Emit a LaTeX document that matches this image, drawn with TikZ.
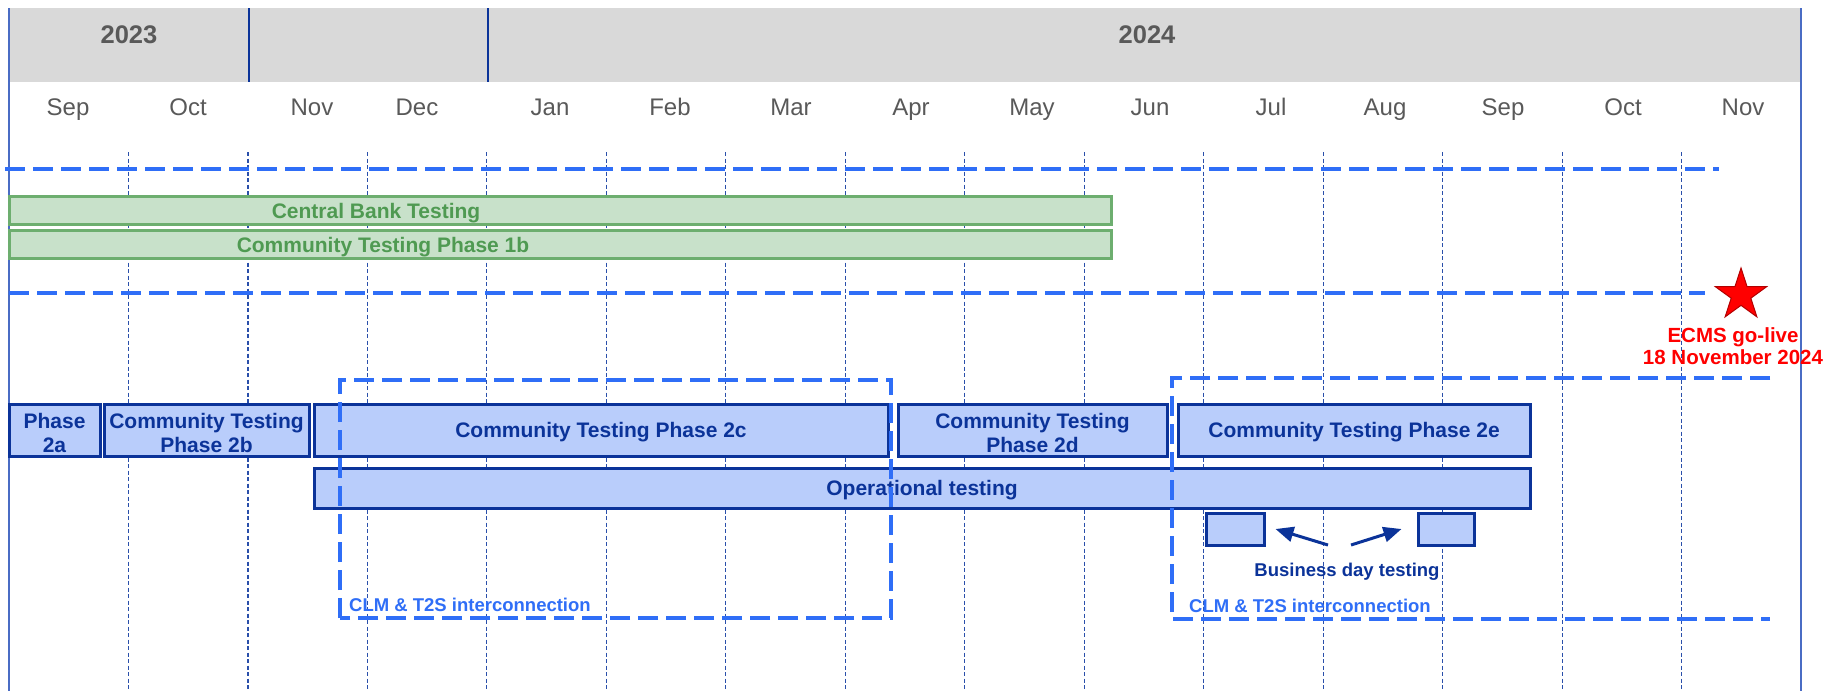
\documentclass[tikz,border=0pt]{standalone}
\usepackage{fontspec}
\setmainfont{Liberation Sans}
\usetikzlibrary{arrows.meta,shapes.geometric}
\definecolor{hdrgrey}{HTML}{D9D9D9}
\definecolor{txtgrey}{HTML}{595959}
\definecolor{dkblue}{HTML}{0B3399}
\definecolor{ltblue}{HTML}{B9CDFB}
\definecolor{dashblue}{HTML}{2F6EF7}
\definecolor{gridblue}{HTML}{2A4FAA}
\definecolor{grfill}{HTML}{C8E1CA}
\definecolor{grline}{HTML}{6DAE6F}
\definecolor{grtext}{HTML}{4F9A52}
\definecolor{edgeblue}{HTML}{4A6CC4}
\definecolor{starred}{HTML}{FF0000}
\begin{document}
\begin{tikzpicture}[x=1pt,y=-1pt,
  bluebox/.style={draw=dkblue, fill=ltblue, line width=3pt, text=dkblue, align=center, inner sep=0pt,
    font=\fontsize{21}{24}\selectfont\bfseries},
  boxlbl/.style={text=dkblue, align=center, inner sep=0pt, font=\fontsize{21}{24}\selectfont\bfseries},
  greenbar/.style={draw=grline, fill=grfill, line width=3pt, inner sep=0pt},
  greentext/.style={text=grtext, font=\fontsize{21}{24}\selectfont\bfseries, inner sep=0pt},
  hdash/.style={draw=dashblue, line width=4.5pt, dash pattern=on 20pt off 8pt},
  gridline/.style={draw=gridblue, line width=1.2pt, dash pattern=on 4pt off 2.5pt},
  monthlbl/.style={text=txtgrey, font=\fontsize{24}{28}\selectfont, anchor=base, inner sep=0pt},
  yearlbl/.style={text=txtgrey, font=\fontsize{25.5}{30}\selectfont\bfseries, anchor=base, inner sep=0pt},
  clmtext/.style={text=dashblue, font=\fontsize{18.5}{22}\selectfont\bfseries, anchor=west, inner sep=0pt},
  bdarrow/.style={draw=dkblue, line width=3pt, -{Triangle[length=18pt,width=15pt]}},
]
\useasboundingbox (0,0) rectangle (1825,691);
\fill[white] (0,0) rectangle (1825,691);

% header band
\fill[hdrgrey] (9,8) rectangle (1801,82);
\draw[dkblue, line width=1.5pt] (249,8) -- (249,82);
\draw[dkblue, line width=1.5pt] (488,8) -- (488,82);
\node[yearlbl] (y2023) at (129,43) {2023};
\node[yearlbl] (y2024) at (1147,43) {2024};

% month labels
\foreach \n/\x/\m in {m1/68/Sep, m2/188/Oct, m3/312/Nov, m4/417/Dec, m5/550/Jan, m6/670/Feb,
  m7/791/Mar, m8/911/Apr, m9/1032/May, m10/1150/Jun, m11/1271/Jul, m12/1385/Aug,
  m13/1503/Sep, m14/1623/Oct, m15/1743/Nov}
  \node[monthlbl] (\n) at (\x,115) {\m};

% grid lines
\foreach \k in {1,...,14}
  \draw[gridline] ({9+119.47*\k},152) -- ({9+119.47*\k},691);

% frame lines
\draw[edgeblue, line width=1.5pt] (9,8) -- (9,691);
\draw[edgeblue, line width=1.5pt] (1801,8) -- (1801,691);

% horizontal dashed lines
\draw[hdash] (5,169) -- (1719,169);
\draw[hdash] (9,293) -- (1705,293);

% green bars
\node[greenbar, minimum width=1102pt, minimum height=28pt] (cbt) at (560,210) {};
\node[greenbar, minimum width=1102pt, minimum height=28pt] (ct1b) at (560,244) {};
\node[greentext] (cbtl) at (376,213) {Central Bank Testing};
\node[greentext] (ct1bl) at (383,247) {Community Testing Phase 1b};

% blue phase boxes
\node[bluebox, minimum width=91pt, minimum height=52pt] (p2a) at (54.5,430) {};
\node[bluebox, minimum width=205pt, minimum height=52pt] (p2b) at (206.5,430) {};
\node[bluebox, minimum width=574pt, minimum height=52pt] (p2c) at (601,430) {};
\node[bluebox, minimum width=269pt, minimum height=52pt] (p2d) at (1032.5,430) {};
\node[bluebox, minimum width=352pt, minimum height=52pt] (p2e) at (1354,430) {};
\node[bluebox, minimum width=1216pt, minimum height=40pt] (op) at (922,488) {};
\node[boxlbl] (p2al) at ([yshift=-2.5pt]p2a.center) {Phase\\2a};
\node[boxlbl] (p2bl) at ([yshift=-2.5pt]p2b.center) {Community Testing\\Phase 2b};
\node[boxlbl] (p2cl) at ([yshift=-2.5pt]p2c.center) {Community Testing Phase 2c};
\node[boxlbl] (p2dl) at ([yshift=-2.5pt]p2d.center) {Community Testing\\Phase 2d};
\node[boxlbl] (p2el) at ([yshift=-2.5pt]p2e.center) {Community Testing Phase 2e};
\node[boxlbl] (opl) at ([yshift=-2.5pt]op.center) {Operational testing};

% business day boxes
\node[bluebox, minimum width=58pt, minimum height=32pt] (bd1) at (1235,529) {};
\node[bluebox, minimum width=56pt, minimum height=32pt] (bd2) at (1446,529) {};
\node[text=dkblue, font=\fontsize{18.5}{22}\selectfont\bfseries, inner sep=0pt] (bdt) at (1347,572) {Business day testing};
\coordinate (a1s) at (1328,545);
\coordinate (a2s) at (1351,545);
\draw[bdarrow] (a1s) -- ([xshift=10pt]bd1.east);
\draw[bdarrow] (a2s) -- ([xshift=-15pt]bd2.west);

% interconnection dashed boxes
\draw[hdash] (340,618) -- (340,380) -- (891,380) -- (891,618) -- cycle;
\draw[hdash] (1770,378) -- (1172,378) -- (1172,619) -- (1770,619);
\node[clmtext] (clm1) at (349,605) {CLM \& T2S interconnection};
\node[clmtext] (clm2) at (1189,606) {CLM \& T2S interconnection};

% go-live star
\node[star, star points=5, star point ratio=2.618, minimum size=54pt, inner sep=0pt,
  fill=starred, draw=red!70!black, line width=1pt] (star) at (1741,295) {};
\node[text=starred, font=\fontsize{20.5}{22}\selectfont\bfseries, align=center, inner sep=0pt] (golive) at (1733,346)
  {ECMS go-live\\18 November 2024};
\end{tikzpicture}
\end{document}
